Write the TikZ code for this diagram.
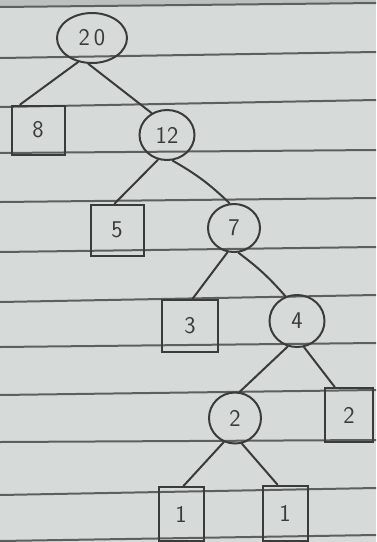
\documentclass[tikz,border=0pt]{standalone}
\usetikzlibrary{shapes.geometric}
\definecolor{paper}{RGB}{214,218,216}
\definecolor{rule}{RGB}{92,96,96}
\definecolor{ink}{RGB}{58,60,60}
\begin{document}
\begin{tikzpicture}[x=1pt, y=-1pt, line cap=round,
    knot/.style={draw=ink, line width=2pt, ellipse, inner sep=0pt, text=ink,
      font=\sffamily\fontsize{24}{24}\selectfont},
    leaf/.style={draw=ink, line width=2pt, rectangle, inner sep=0pt, text=ink,
      font=\sffamily\fontsize{24}{24}\selectfont},
    edge/.style={draw=ink, line width=2pt}]
    % Giấy kẻ dòng
    \useasboundingbox (0,0) rectangle (376,542);
    \clip (0,0) rectangle (376,542);
    \fill[paper] (0,0) rectangle (376,542);
    \fill[paper!88!black] (0,0) -- (0,7) -- (376,3) -- (376,0) -- cycle;
    \foreach \l/\r in {7/3, 58/52, 107/100, 153/150, 202/198, 252/247,
                       302/295, 347/343, 395/390, 442/440, 495/488, 541/535} {
        \draw[rule, line width=2pt] (0,\l) -- (376,\r);
    }
    % Các nút của cây
    \node[knot, minimum width=70, minimum height=50] (n20) at (92,38) {2\,0};
    \node[leaf, minimum width=53, minimum height=49] (b8) at (38,130) {8};
    \node[knot, minimum width=55, minimum height=50] (n12) at (167,135) {12};
    \node[leaf, minimum width=53, minimum height=51] (b5) at (117,230) {5};
    \node[knot, minimum width=52, minimum height=48] (n7) at (234,228) {7};
    \node[leaf, minimum width=56, minimum height=52] (b3) at (190,326) {3};
    \node[knot, minimum width=55, minimum height=52] (n4) at (297,321) {4};
    \node[knot, minimum width=52, minimum height=51] (n2) at (235,418) {2};
    \node[leaf, minimum width=48, minimum height=54] (b2) at (349,415) {2};
    \node[leaf, minimum width=45, minimum height=54] (b1l) at (181,514) {1};
    \node[leaf, minimum width=45, minimum height=55] (b1r) at (285,513) {1};
    % Các cạnh
    \draw[edge] (n20.240) -- (b8.125);
    \draw[edge] (n20.262) -- (n12.125);
    \draw[edge] (n12.250) -- (b5.95);
    \draw[edge] (n12.282) to[bend left=7] (n7.100);
    \draw[edge] (n7.255) -- (b3.85);
    \draw[edge] (n7.280) to[bend left=6] (n4.115);
    \draw[edge] (n4.250) -- (n2.80);
    \draw[edge] (n4.285) -- (b2.117);
    \draw[edge] (n2.245) -- (b1l.85);
    \draw[edge] (n2.285) -- (b1r.105);
\end{tikzpicture}
\end{document}
